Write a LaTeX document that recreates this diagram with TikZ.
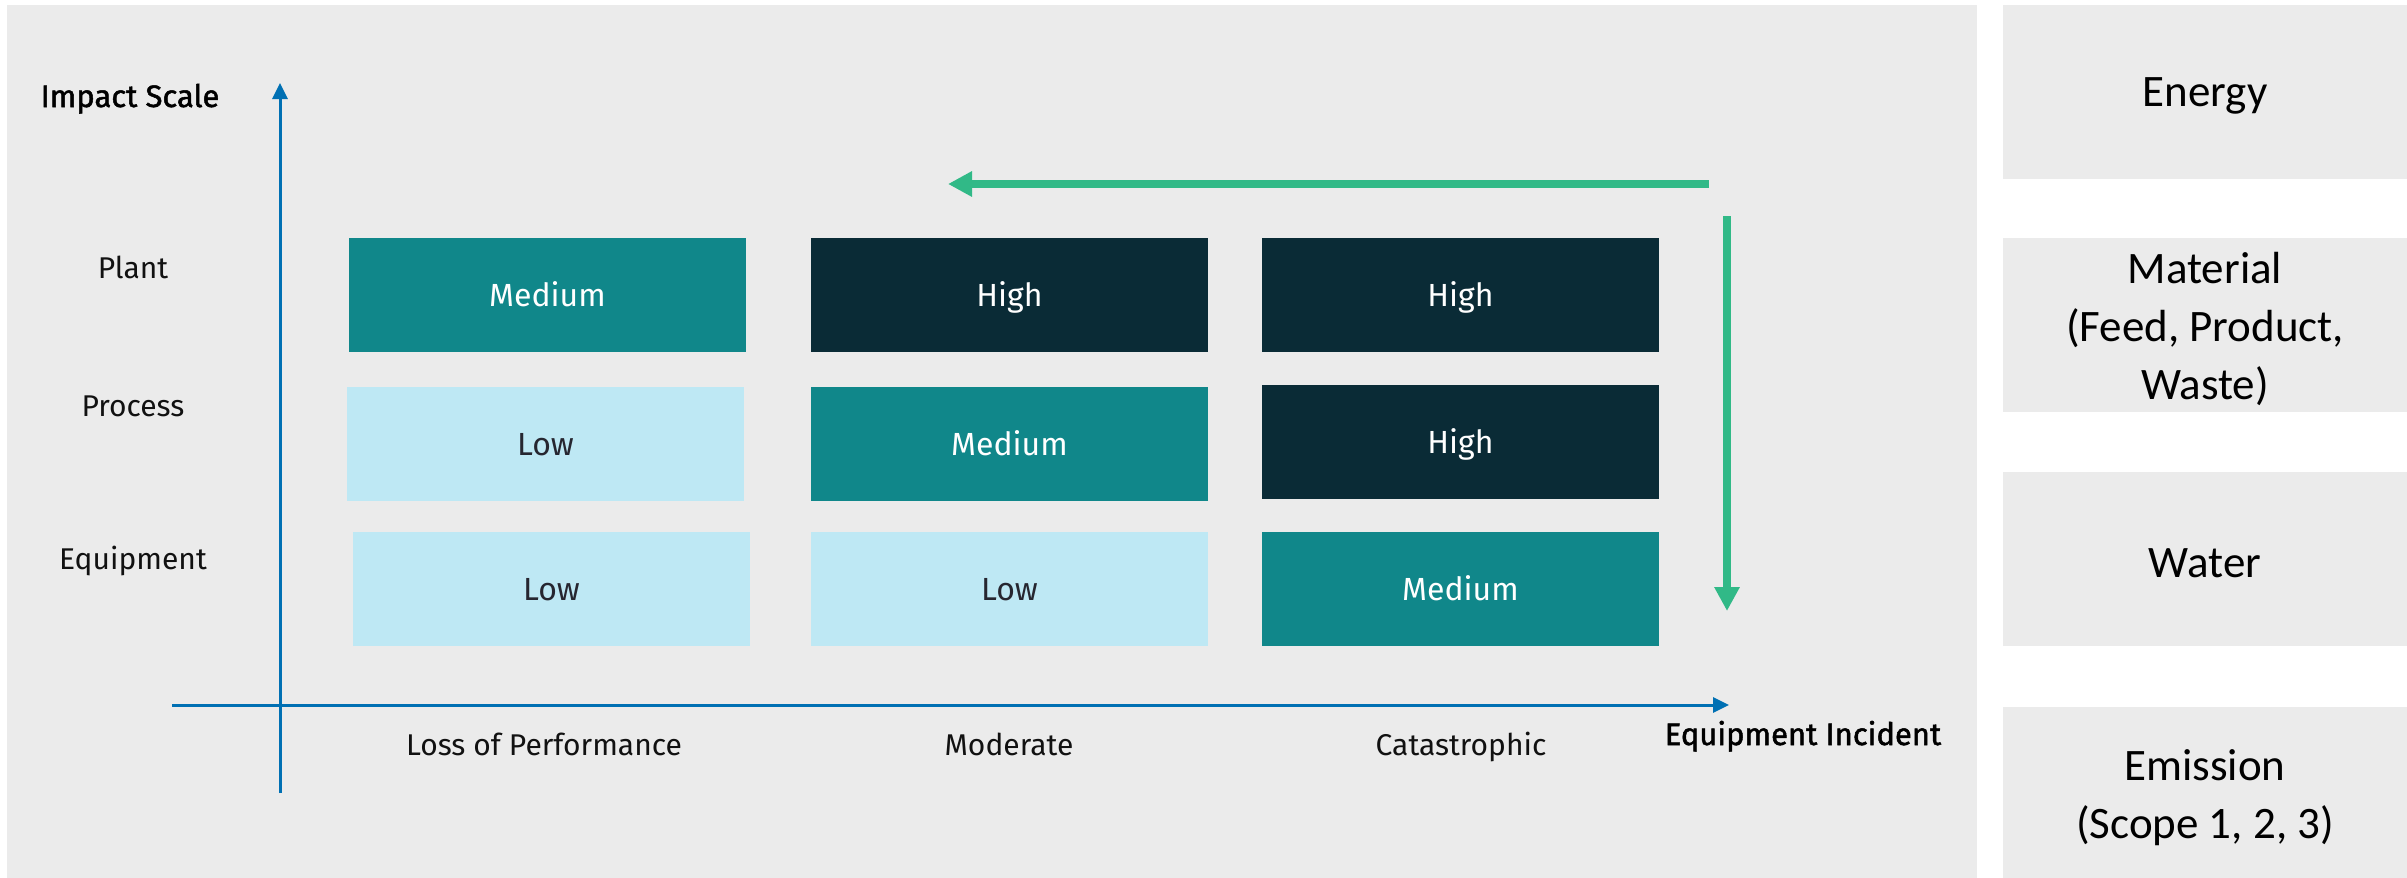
\documentclass[tikz,border=0pt]{standalone}
\usepackage{fontspec}
\setmainfont{Fira Sans}
\newfontfamily\boxfont{Carlito}
\newfontfamily\titlefont[FakeBold=1.6]{Fira Sans}
\usetikzlibrary{arrows.meta}

\definecolor{panelGray}{HTML}{EBEBEB}
\definecolor{cellHigh}{HTML}{0A2B36}
\definecolor{cellMid}{HTML}{10878A}
\definecolor{cellLow}{HTML}{BEE8F4}
\definecolor{lowText}{HTML}{262630}
\definecolor{labText}{HTML}{111111}
\definecolor{flowGreen}{HTML}{31B987}
\definecolor{axisBlue}{HTML}{0070B3}

\begin{document}
\begin{tikzpicture}[x=1pt,y=-1pt,
  cell/.style={rectangle, inner sep=0pt, minimum width=397pt, minimum height=114pt,
    font=\fontsize{32}{36}\selectfont, text height=22pt, text depth=0pt},
  highcell/.style={cell, fill=cellHigh, text=white},
  midcell/.style={cell, fill=cellMid, text=white},
  lowcell/.style={cell, fill=cellLow, text=lowText},
  scalelab/.style={anchor=base, font=\fontsize{30}{34}\selectfont, text=labText, inner sep=0pt},
  axistitle/.style={anchor=base, font=\titlefont\fontsize{31}{35}\selectfont, text=black, inner sep=0pt},
  sidebox/.style={rectangle, fill=panelGray, inner sep=0pt, minimum width=404pt, minimum height=174pt},
  sidetext/.style={align=center, font=\boxfont\fontsize{45}{58}\selectfont, text=black, inner sep=0pt, yshift=-4pt},
  axisline/.style={draw=axisBlue, line width=3pt, -{Triangle[length=16pt,width=15pt]}},
  flowarrow/.style={draw=flowGreen, line width=7.5pt, -{Triangle[length=24pt,width=24pt]}}
]
% canvas
\fill[white] (0,0) rectangle (2407,878);
\useasboundingbox (0,0) rectangle (2407,878);

% main panel
\fill[panelGray] (7,5) rectangle (1977,878);

% side categories
\node[sidebox] (energy)   at (2205,91.5) {};
\node[sidebox] (material) at (2205,325)  {};
\node[sidebox] (water)    at (2205,559)  {};
\node[sidebox] (emission) at (2205,794)  {};
\node[sidetext] at (energy.center)   {Energy};
\node[sidetext] at (material.center) {Material\\(Feed, Product,\\Waste)};
\node[sidetext] at (water.center)    {Water};
\node[sidetext] at (emission.center) {Emission\\(Scope 1, 2, 3)};

% axes
\coordinate (ybot) at (280,793);
\coordinate (ytop) at (280,83);
\coordinate (xleft) at (172,705);
\coordinate (xright) at (1729,705);
\draw[axisline] (ybot) -- (ytop);
\draw[axisline] (xleft) -- (xright);

\node[axistitle] (ytitle) at (130,107) {Impact Scale};
\node[axistitle] (xtitle) at (1803,745) {Equipment Incident};

% scale labels
\node[scalelab] (lplant)   at (133,278) {Plant};
\node[scalelab] (lprocess) at (133,416) {Process};
\node[scalelab] (lequip)   at (133,569) {Equipment};

\node[scalelab] (lloss) at (544,755)  {Loss of Performance};
\node[scalelab] (lmod)  at (1009,755) {Moderate};
\node[scalelab] (lcat)  at (1461,755) {Catastrophic};

% risk matrix
\node[midcell]  (c11) at (547.5,295)  {Medium};
\node[highcell] (c12) at (1009.5,295) {High};
\node[highcell] (c13) at (1460.5,295) {High};
\node[lowcell]  (c21) at (545.5,444)  {Low};
\node[midcell]  (c22) at (1009.5,444) {Medium};
\node[highcell] (c23) at (1460.5,442) {High};
\node[lowcell]  (c31) at (551.5,589)  {Low};
\node[lowcell]  (c32) at (1009.5,589) {Low};
\node[midcell]  (c33) at (1460.5,589) {Medium};

% escalation arrows
\coordinate (hstart) at (1709,184);
\coordinate (hend) at (948,184);
\coordinate (vstart) at (1727,216);
\coordinate (vend) at (1727,611);
\draw[flowarrow] (hstart) -- (hend);
\draw[flowarrow] (vstart) -- (vend);
\end{tikzpicture}
\end{document}
